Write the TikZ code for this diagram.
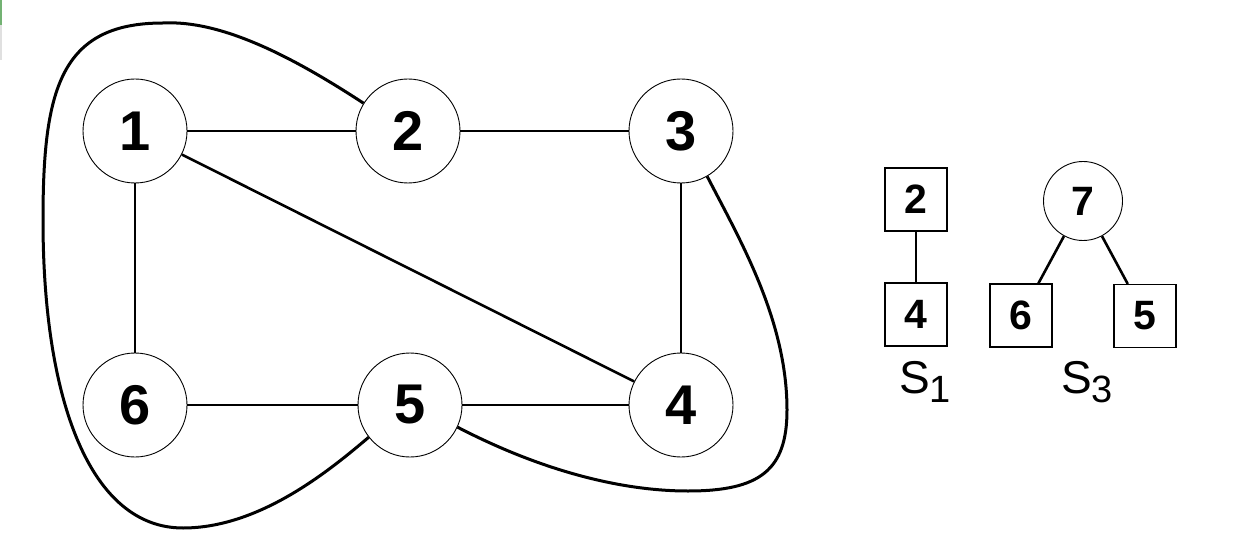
\documentclass[tikz,border=0pt]{standalone}
\usepackage{fontspec}
\setmainfont{Liberation Sans}
\begin{document}
\begin{tikzpicture}[x=1pt,y=-1pt,
  vert/.style={circle,draw,line width=0.9pt,minimum size=104pt,inner sep=0pt,font=\fontsize{56}{60}\selectfont\bfseries},
  small/.style={circle,draw,line width=0.9pt,minimum size=79pt,inner sep=0pt,font=\fontsize{41}{44}\selectfont\bfseries},
  sq/.style={rectangle,draw,line width=1.1pt,minimum width=62pt,minimum height=63pt,inner sep=0pt,font=\fontsize{41}{44}\selectfont\bfseries},
  edge/.style={line width=2.6pt},
  sep/.style={line width=3pt},
  lab/.style={inner sep=0pt,anchor=base west,font=\fontsize{46}{50}\selectfont}]
\useasboundingbox (0,0) rectangle (1234,556);
\fill[white] (0,0) rectangle (1234,556);
\fill[green!45!black!55] (0,0) rectangle (2,25);
\fill[black!12] (0,25) rectangle (1.5,60);
% main graph
\node[vert] (n1) at (135,131) {1};
\node[vert] (n2) at (408,131) {2};
\node[vert] (n3) at (681,131) {3};
\node[vert] (n6) at (135,405) {6};
\node[vert] (n5) at (410,405) {5};
\node[vert] (n4) at (681,405) {4};
\draw[edge] (n1) -- (n2);
\draw[edge] (n2) -- (n3);
\draw[edge] (n1) -- (n6);
\draw[edge] (n1) -- (n4);
\draw[edge] (n3) -- (n4);
\draw[edge] (n6) -- (n5);
\draw[edge] (n5) -- (n4);
% separating curve
\coordinate (ltop) at (163,23);
\coordinate (lside) at (43,220);
\coordinate (lbot) at (183,528);
\coordinate (rbot) at (688,491);
\coordinate (rside) at (787,410);
\draw[sep] (n2.148) .. controls (290,55) and (220,20) .. (ltop)
  .. controls (60,23) and (43,90) .. (lside)
  .. controls (43,400) and (90,528) .. (lbot)
  .. controls (260,528) and (330,470) .. (n5.218);
\draw[sep] (n5.-25) .. controls (540,470) and (620,491) .. (rbot)
  .. controls (760,491) and (787,470) .. (rside)
  .. controls (787,320) and (740,240) .. (n3.-60);
% S1
\node[sq] (s2) at (916,199.5) {2};
\node[sq] (s4) at (916,314.5) {4};
\draw[edge] (s2) -- (s4);
\node[lab] (l1) at (899,393) {S\raisebox{-9pt}{\fontsize{38}{40}\selectfont 1}};
% S3
\node[small] (t7) at (1083,201) {7};
\node[sq] (t6) at (1021,315.5) {6};
\node[sq] (t5) at (1145,316) {5};
\draw[edge] (t7) -- (t6);
\draw[edge] (t7) -- (t5);
\node[lab] (l3) at (1061,393) {S\raisebox{-9pt}{\fontsize{38}{40}\selectfont 3}};
\end{tikzpicture}
\end{document}
